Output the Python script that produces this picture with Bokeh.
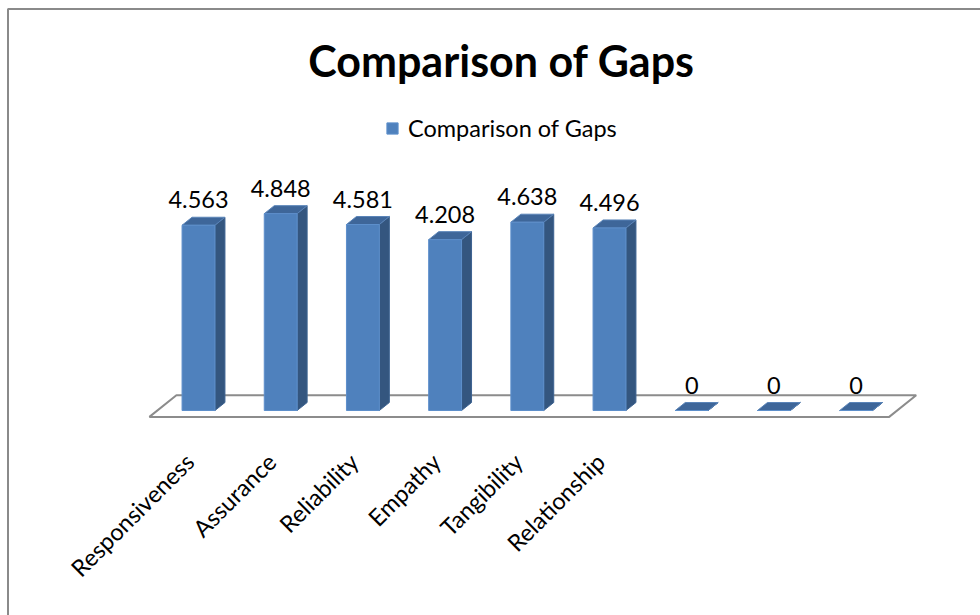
import numpy as np
from bokeh.plotting import figure
from bokeh.models import Range1d, Legend, LegendItem
from bokeh.core.properties import value
from bokeh.embed import file_html
from bokeh.resources import INLINE

# ---- data -------------------------------------------------------------
categories = ["Responsiveness", "Assurance", "Reliability", "Empathy",
              "Tangibility", "Relationship", "", "", ""]
gaps = [4.563, 4.848, 4.581, 4.208, 4.638, 4.496, 0, 0, 0]
value_labels = ["4.563", "4.848", "4.581", "4.208", "4.638", "4.496", "0", "0", "0"]
series_name = "Comparison of Gaps"
chart_title = "Comparison of Gaps"

# ---- page / scale layout ----------------------------------------------
W, H = 980, 615
X0_PX, X_STEP = 198.0, 82.2     # screen x of the first category, px per category
Y0_PX, Y_STEP = 410.0, 40.6     # screen y of the zero line, px per unit


def sx(px):
    return (px - X0_PX) / X_STEP


def sy(py):
    return (Y0_PX - py) / Y_STEP


DX = 10.0 / X_STEP     # oblique depth projection (one unit of depth)
DY = 8.0 / Y_STEP
HALF = 0.2             # half of the bar width, in category units

FONT_NAME = "Lato"
FONT = value(FONT_NAME)

p = figure(width=W, height=H,
           x_range=Range1d(sx(0), sx(W)), y_range=Range1d(sy(H), sy(0)),
           x_axis_location=None, y_axis_location=None,
           toolbar_location=None, output_backend="svg", min_border=0,
           outline_line_color=None, background_fill_color="white",
           border_fill_color="white")
p.grid.visible = False

# ---- chart area border -------------------------------------------------
p.line(x=[sx(7.5), sx(7.5), sx(W + 10)], y=[sy(H + 10), sy(8.5), sy(8.5)],
       line_color="#8a8a8a", line_width=2)

# ---- floor -------------------------------------------------------------
n = len(gaps)
x_lo, x_hi = -0.5, n - 0.5
d_front, d_back = -0.8, 1.9
floor_x = [x_lo + d_front * DX, x_hi + d_front * DX, x_hi + d_back * DX, x_lo + d_back * DX]
floor_y = [d_front * DY, d_front * DY, d_back * DY, d_back * DY]
p.patch(floor_x, floor_y, fill_color="white", line_color="#8c8c8c", line_width=2)

# ---- 3-D columns -------------------------------------------------------
xs = np.arange(n, dtype=float)
vals = np.array(gaps, dtype=float)

side_xs = [[x + HALF, x + HALF + DX, x + HALF + DX, x + HALF] for x in xs]
side_ys = [[0.0, DY, v + DY, v] for v in vals]
top_xs = [[x - HALF, x + HALF, x + HALF + DX, x - HALF + DX] for x in xs]
top_ys = [[v, v, v + DY, v + DY] for v in vals]

p.patches(side_xs, side_ys, fill_color="#34567f", line_color="#3d6391", line_width=1)
p.patches(top_xs, top_ys, fill_color="#3e6699", line_color="#5a84b8", line_width=1)
front = p.quad(left=xs - HALF, right=xs + HALF, bottom=0, top=vals,
               fill_color="#4f81bd", line_color="#5d8fcb", line_width=1)

# ---- value labels -------------------------------------------------------
LABEL_GAP_PX = 17.5
p.text(x=xs, y=vals + DY + LABEL_GAP_PX / Y_STEP, text=value_labels,
       text_align="center", text_baseline="alphabetic",
       text_font=FONT, text_font_size="23.5px", text_color="black")

# ---- category labels (slanted, ending just left of each column) --------
LBL_SHIFT_PX, LBL_Y_PX = -9.0, 457.0
lbl_x = xs + LBL_SHIFT_PX / X_STEP
lbl_y = [sy(LBL_Y_PX)] * n
p.text(x=lbl_x, y=lbl_y, text=categories, angle=np.pi / 4,
       text_align="right", text_baseline="middle",
       text_font=FONT, text_font_size="23.5px", text_color="black")

# ---- title ---------------------------------------------------------------
p.text(x=[sx(501)], y=[sy(60)], text=[chart_title],
       text_align="center", text_baseline="alphabetic",
       text_font=FONT, text_font_style="bold", text_font_size="43px",
       text_color="black")

# ---- legend -------------------------------------------------------------
legend = Legend(items=[LegendItem(label=series_name, renderers=[front])],
                location=(385, 473), orientation="horizontal",
                glyph_width=14, glyph_height=14, label_standoff=9,
                padding=0, margin=0, spacing=0,
                border_line_color=None, background_fill_alpha=0,
                label_text_font=FONT_NAME, label_text_font_size="23.5px",
                label_text_color="black")
p.add_layout(legend)

open("out.html", "w").write(file_html(p, INLINE))
